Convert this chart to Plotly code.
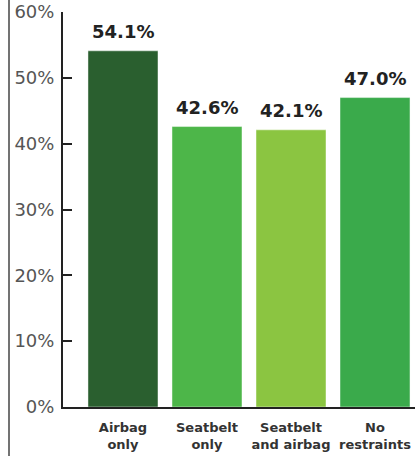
import plotly.graph_objects as go

categories = ["Airbag<br>only", "Seatbelt<br>only", "Seatbelt<br>and airbag", "No<br>restraints"]
values = [54.1, 42.6, 42.1, 47.0]
colors = ["#2a5f2f", "#4db649", "#8bc541", "#3aaa4b"]
y_ticks = [0, 10, 20, 30, 40, 50, 60]
y_tick_labels = ["0%", "10%", "20%", "30%", "40%", "50%", "60%"]

fig = go.Figure()
fig.add_trace(go.Bar(
    x=categories, y=values,
    marker=dict(color=colors, line=dict(color="rgba(255,255,255,0.45)", width=1)),
    hoverinfo="skip",
))

for c, v in zip(categories, values):
    fig.add_annotation(
        x=c, y=v, text=f"{v:.1f}%", showarrow=False,
        yanchor="bottom", yshift=7,
        font=dict(family="DejaVu Sans", size=18, color="#222222", weight="bold"),
    )

fig.add_shape(type="line", xref="paper", yref="paper",
              x0=-0.1534, x1=-0.1534, y0=-0.2, y1=1.1,
              line=dict(color="#444444", width=1.5))

fig.update_layout(
    width=415, height=456,
    margin=dict(l=63, r=0, t=12, b=49),
    paper_bgcolor="white", plot_bgcolor="white",
    bargap=0.1667,
    showlegend=False,
    xaxis=dict(
        range=[-0.714, 3.476],
        showline=True, linecolor="#222222", linewidth=2,
        ticks="", showgrid=False, zeroline=False,
        tickfont=dict(family="DejaVu Sans", size=13, color="#333333", weight="bold"),
        ticklabelstandoff=7,
    ),
    yaxis=dict(
        range=[0, 60],
        tickvals=y_ticks, ticktext=y_tick_labels,
        showline=True, linecolor="#222222", linewidth=2,
        ticks="inside", ticklen=9, tickwidth=2, tickcolor="#222222",
        showgrid=False, zeroline=False,
        tickfont=dict(family="DejaVu Sans", size=18, color="#555555"),
        ticklabelstandoff=3,
    ),
)

fig.write_html("out.html", config={"displayModeBar": False})
with open("out.html", "r", encoding="utf-8") as f:
    html = f.read()
html = html.replace("<body>", '<body style="margin:0;padding:0;overflow:hidden">', 1)
with open("out.html", "w", encoding="utf-8") as f:
    f.write(html)
